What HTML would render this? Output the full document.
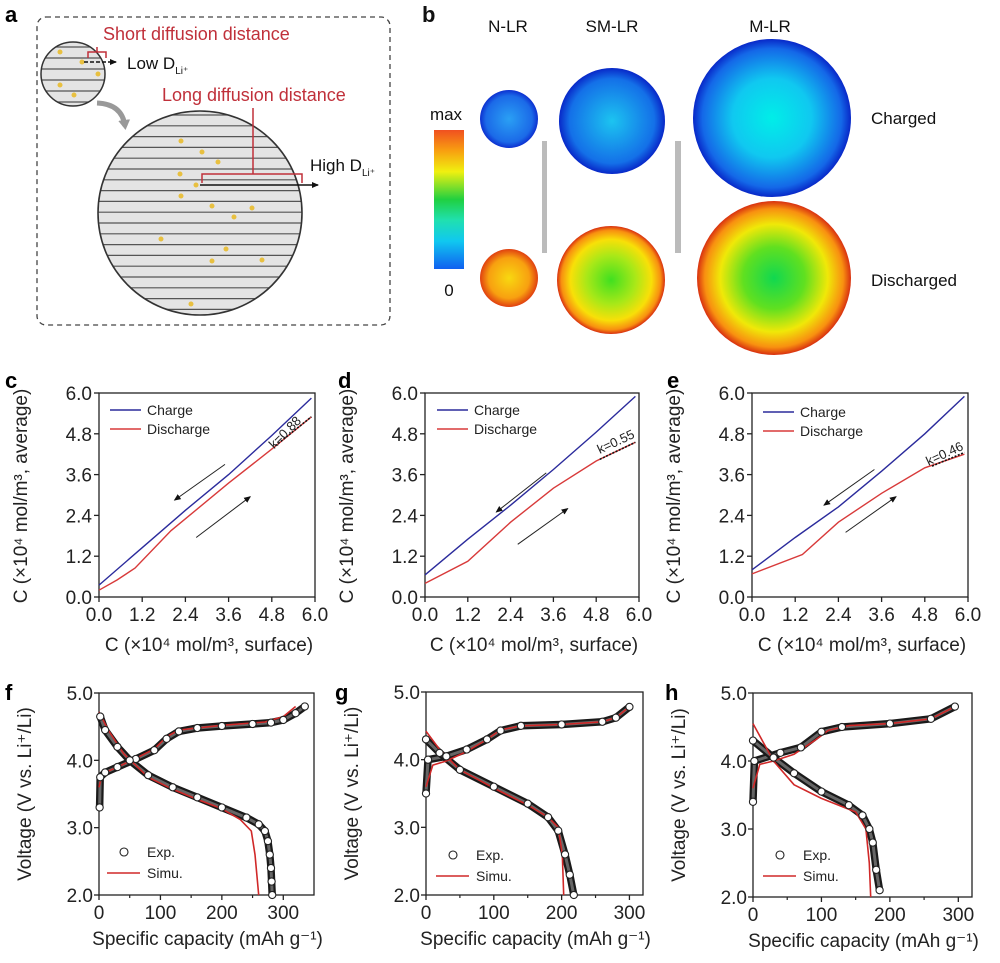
<!DOCTYPE html>
<html><head><meta charset="utf-8"><style>
html,body{margin:0;padding:0;background:#fff;}
svg{display:block;font-family:"Liberation Sans",Arial,sans-serif;}
</style></head><body>
<svg id="fig" width="1000" height="963" viewBox="0 0 1000 963" xmlns="http://www.w3.org/2000/svg">
<defs>
<clipPath id="clipS"><circle cx="73" cy="74" r="32"/></clipPath>
<clipPath id="clipB"><circle cx="200" cy="213" r="102"/></clipPath>
<marker id="ah" markerWidth="8" markerHeight="8" refX="6" refY="4" orient="auto" markerUnits="userSpaceOnUse"><path d="M0,1 L7,4 L0,7 z" fill="#111"/></marker>
<marker id="ahg" markerWidth="14" markerHeight="14" refX="6" refY="7" orient="auto" markerUnits="userSpaceOnUse"><path d="M0,1 L10,7 L0,13 z" fill="#999"/></marker>
<linearGradient id="cbar" x1="0" y1="1" x2="0" y2="0">
<stop offset="0" stop-color="#1060f0"/><stop offset="0.2" stop-color="#10c8f0"/><stop offset="0.35" stop-color="#20e0b0"/><stop offset="0.5" stop-color="#20d040"/><stop offset="0.7" stop-color="#f0f010"/><stop offset="0.85" stop-color="#f8a010"/><stop offset="1" stop-color="#f05020"/>
</linearGradient>
<radialGradient id="gc1"><stop offset="0" stop-color="#2aa0f4"/><stop offset="0.8" stop-color="#1b6ae8"/><stop offset="1" stop-color="#0c30d0"/></radialGradient>
<radialGradient id="gc2"><stop offset="0" stop-color="#1cc4f0"/><stop offset="0.8" stop-color="#1470e8"/><stop offset="1" stop-color="#0828c8"/></radialGradient>
<radialGradient id="gc3"><stop offset="0" stop-color="#00eee8"/><stop offset="0.5" stop-color="#10c8f0"/><stop offset="0.88" stop-color="#1468e8"/><stop offset="1" stop-color="#0828c8"/></radialGradient>
<radialGradient id="gd1"><stop offset="0" stop-color="#f8d810"/><stop offset="0.7" stop-color="#f8a010"/><stop offset="1" stop-color="#e04010"/></radialGradient>
<radialGradient id="gd2"><stop offset="0" stop-color="#40e020"/><stop offset="0.45" stop-color="#a8e818"/><stop offset="0.75" stop-color="#f8e008"/><stop offset="0.92" stop-color="#f89010"/><stop offset="1" stop-color="#d83010"/></radialGradient>
<radialGradient id="gd3"><stop offset="0" stop-color="#10d850"/><stop offset="0.4" stop-color="#60e020"/><stop offset="0.7" stop-color="#f0e808"/><stop offset="0.9" stop-color="#f89010"/><stop offset="1" stop-color="#d83010"/></radialGradient>
</defs>

<!-- Panel a -->
<g>
<text x="5" y="22" font-size="22" font-weight="bold">a</text>
<rect x="37" y="17" width="353" height="308" rx="9" fill="none" stroke="#444" stroke-width="1.3" stroke-dasharray="5,4"/>
<g>
<circle cx="73" cy="74" r="32" fill="#e4e4e4"/>
<g clip-path="url(#clipS)" stroke="#555" stroke-width="1.2">
<line x1="30" x2="120" y1="47" y2="47"/><line x1="30" x2="120" y1="58" y2="58"/><line x1="30" x2="120" y1="69" y2="69"/><line x1="30" x2="120" y1="80" y2="80"/><line x1="30" x2="120" y1="91" y2="91"/><line x1="30" x2="120" y1="102" y2="102"/>
</g>
<circle cx="73" cy="74" r="32" fill="none" stroke="#333" stroke-width="1.5"/>
<g fill="#e8c040"><circle cx="60" cy="52" r="2.5"/><circle cx="82" cy="62" r="2.5"/><circle cx="98" cy="74" r="2.5"/><circle cx="60" cy="85" r="2.5"/><circle cx="74" cy="95" r="2.5"/></g>
</g>
<g>
<circle cx="200" cy="213" r="102" fill="#e4e4e4"/>
<g clip-path="url(#clipB)" stroke="#555" stroke-width="1.2" id="bigLines"></g>
<circle cx="200" cy="213" r="102" fill="none" stroke="#333" stroke-width="1.6"/>
<g fill="#e8c040"><circle cx="181" cy="141" r="2.5"/><circle cx="202" cy="152" r="2.5"/><circle cx="218" cy="162" r="2.5"/><circle cx="180" cy="174" r="2.5"/><circle cx="196" cy="185" r="2.5"/><circle cx="181" cy="196" r="2.5"/><circle cx="212" cy="206" r="2.5"/><circle cx="252" cy="208" r="2.5"/><circle cx="234" cy="217" r="2.5"/><circle cx="161" cy="239" r="2.5"/><circle cx="226" cy="249" r="2.5"/><circle cx="212" cy="261" r="2.5"/><circle cx="262" cy="260" r="2.5"/><circle cx="191" cy="304" r="2.5"/></g>
</g>
<path d="M97,103 Q122,104 125,126" fill="none" stroke="#999" stroke-width="5" marker-end="url(#ahg)"/>
<path d="M88,58 V52 H106 V58 M97,52 V47" fill="none" stroke="#c0303a" stroke-width="1.5"/>
<line x1="84" y1="62" x2="116" y2="62" stroke="#111" stroke-width="1.5" stroke-dasharray="4,2" marker-end="url(#ah)"/>
<text x="103" y="40" font-size="18" fill="#c0303a">Short diffusion distance</text>
<text x="127" y="69" font-size="17" fill="#111">Low D<tspan font-size="10" dy="5">Li⁺</tspan></text>
<text x="162" y="101" font-size="18" fill="#c0303a">Long diffusion distance</text>
<path d="M253,108 V174 M202,183 V174 H302 V183" fill="none" stroke="#c0303a" stroke-width="1.5"/>
<line x1="200" y1="185" x2="318" y2="185" stroke="#111" stroke-width="1.5" marker-end="url(#ah)"/>
<text x="310" y="171" font-size="17" fill="#111">High D<tspan font-size="10" dy="5">Li⁺</tspan></text>
</g>

<!-- Panel b -->
<g font-size="17" fill="#111">
<text x="422" y="22" font-size="22" font-weight="bold">b</text>
<text x="508" y="32" text-anchor="middle">N-LR</text>
<text x="612" y="32" text-anchor="middle">SM-LR</text>
<text x="770" y="32" text-anchor="middle">M-LR</text>
<text x="446" y="120" text-anchor="middle">max</text>
<text x="449" y="296" text-anchor="middle">0</text>
<rect x="434" y="130" width="30" height="139" fill="url(#cbar)"/>
<rect x="542" y="141" width="5" height="112" fill="#bbb"/>
<rect x="675" y="141" width="6" height="112" fill="#bbb"/>
<circle cx="509" cy="119" r="29" fill="url(#gc1)"/>
<circle cx="612" cy="121" r="53" fill="url(#gc2)"/>
<circle cx="772" cy="118" r="79" fill="url(#gc3)"/>
<circle cx="509" cy="278" r="29" fill="url(#gd1)"/>
<circle cx="611" cy="280" r="54" fill="url(#gd2)"/>
<circle cx="774" cy="278" r="77" fill="url(#gd3)"/>
<text x="871" y="124">Charged</text>
<text x="871" y="286">Discharged</text>
</g>

<g id="charts"></g>
</svg>
<script>
// ---- data: panels c, d, e (x: surface conc, y: average conc) ----
const cCharge = [[0,0.35],[1.2,1.45],[2.4,2.55],[3.6,3.6],[4.8,4.75],[5.9,5.85]];
const cDischarge = [[0,0.2],[0.5,0.5],[1.0,0.85],[2.0,1.95],[3.6,3.35],[4.8,4.35],[5.9,5.3]];
const cFit = [[4.9,4.45],[5.9,5.3]];
const dCharge = [[0,0.65],[1.2,1.7],[2.4,2.7],[3.6,3.75],[4.8,4.85],[5.9,5.9]];
const dDischarge = [[0,0.4],[1.2,1.05],[2.4,2.2],[3.6,3.2],[4.8,4.0],[5.9,4.55]];
const dFit = [[4.9,4.05],[5.9,4.55]];
const eCharge = [[0,0.8],[1.2,1.75],[2.4,2.65],[3.6,3.7],[4.8,4.8],[5.9,5.9]];
const eDischarge = [[0,0.68],[1.4,1.25],[2.4,2.2],[3.6,3.05],[4.8,3.8],[5.9,4.2]];
const eFit = [[5.0,3.85],[5.9,4.25]];
const concTicks = ["0.0","1.2","2.4","3.6","4.8","6.0"];
const kLabels = ["k=0.88","k=0.55","k=0.46"];

// ---- data: panels f, g, h (capacity vs voltage) ----
const fExpCharge = [[1,3.3],[2,3.75],[10,3.82],[30,3.9],[60,4.02],[90,4.15],[110,4.32],[130,4.43],[160,4.48],[200,4.51],[250,4.54],[280,4.56],[300,4.6],[320,4.7],[335,4.8]];
const fExpDischarge = [[2,4.65],[10,4.45],[30,4.2],[50,4.0],[80,3.78],[120,3.6],[160,3.45],[200,3.3],[240,3.15],[260,3.05],[270,2.95],[275,2.8],[278,2.6],[280,2.4],[281,2.2],[282,2.0]];
const fSimCharge = [[0,3.6],[5,3.8],[30,3.9],[60,4.03],[90,4.17],[110,4.35],[130,4.45],[200,4.52],[270,4.57],[300,4.65],[320,4.8]];
const fSimDischarge = [[0,4.72],[15,4.45],[40,4.1],[80,3.75],[120,3.57],[160,3.42],[200,3.28],[230,3.12],[248,2.95],[254,2.6],[260,2.0]];
const gExpCharge = [[0,3.5],[3,4.0],[30,4.05],[60,4.15],[90,4.3],[110,4.43],[140,4.5],[200,4.52],[260,4.56],[280,4.62],[300,4.78]];
const gExpDischarge = [[0,4.3],[20,4.1],[50,3.85],[100,3.6],[150,3.35],[180,3.15],[195,2.95],[205,2.6],[212,2.3],[218,2.0]];
const gSimCharge = [[0,3.6],[10,3.92],[30,3.98],[60,4.12],[90,4.3],[110,4.44],[140,4.5],[200,4.52],[260,4.56],[280,4.62],[302,4.8]];
const gSimDischarge = [[0,4.42],[20,4.15],[50,3.85],[100,3.58],[150,3.33],[180,3.15],[195,3.0],[201,2.6],[203,2.0]];
const hExpCharge = [[0,3.4],[2,4.0],[40,4.12],[70,4.2],[100,4.43],[130,4.5],[200,4.55],[260,4.62],[295,4.8]];
const hExpDischarge = [[0,4.3],[30,4.05],[60,3.82],[100,3.55],[140,3.35],[160,3.2],[170,3.0],[175,2.8],[180,2.4],[185,2.1]];
const hSimCharge = [[0,3.6],[10,3.95],[30,4.0],[60,4.1],[90,4.3],[110,4.45],[140,4.52],[200,4.55],[260,4.62],[295,4.8]];
const hSimDischarge = [[0,4.55],[30,4.0],[60,3.65],[100,3.45],[150,3.25],[165,3.0],[170,2.5],[172,2.0]];
const capTicks = [0,100,200,300];
const voltTicks = ["2.0","3.0","4.0","5.0"];

const NS = "http://www.w3.org/2000/svg";
const root = document.getElementById('charts');
function el(tag, attrs, parent){ const e=document.createElementNS(NS,tag); for(const k in attrs) e.setAttribute(k,attrs[k]); (parent||root).appendChild(e); return e; }

// big particle stripes
const bl=document.getElementById('bigLines');
for(let y=115;y<320;y+=10.8){ const l=el('line',{x1:90,x2:310,y1:y,y2:y},bl);

 }

function scale(d0,d1,p0,p1){ return v => p0+(v-d0)*(p1-p0)/(d1-d0); }
function pathOf(pts,sx,sy){ return pts.map((p,i)=>(i?'L':'M')+sx(p[0]).toFixed(1)+','+sy(p[1]).toFixed(1)).join(' '); }

function frame(g, X0,X1,Y0,Y1){
  const r=el('rect',{x:X0,y:Y1,width:X1-X0,height:Y0-Y1,fill:'none',stroke:'#222','stroke-width':1.3},g);
  
  
}

// ---- concentration panels ----
const concPanels=[
 {id:'c',x0:99,x1:315,lx:5,ch:cCharge,dis:cDischarge,fit:cFit,k:kLabels[0],kpos:[5.25,4.75],ax1:[[3.5,3.9],[2.1,2.85]],ax2:[[2.7,1.75],[4.2,2.95]],leg:[110,410]},
 {id:'d',x0:425,x1:639,lx:338,ch:dCharge,dis:dDischarge,fit:dFit,k:kLabels[1],kpos:[5.4,4.45],ax1:[[3.4,3.65],[2.0,2.5]],ax2:[[2.6,1.55],[4.0,2.6]],leg:[437,410]},
 {id:'e',x0:752,x1:968,lx:667,ch:eCharge,dis:eDischarge,fit:eFit,k:kLabels[2],kpos:[5.4,4.1],ax1:[[3.4,3.75],[2.0,2.7]],ax2:[[2.6,1.9],[4.0,2.95]],leg:[763,412]}
];
concPanels.forEach(P=>{
  const g=el('g',{});
  
  
  const Y0=597,Y1=393;
  const sx=scale(0,6,P.x0,P.x1), sy=scale(0,6,Y0,Y1);
  const lab=el('text',{x:P.lx,y:388,'font-size':22,'font-weight':'bold'},g); lab.textContent=P.id;
  
  
  frame(g,P.x0,P.x1,Y0,Y1);
  concTicks.forEach((t,i)=>{
    const v=parseFloat(t);
    const tx=el('line',{x1:sx(v),x2:sx(v),y1:Y0,y2:Y0+5,stroke:'#222','stroke-width':1.3},g);
    
    
    const ty=el('line',{x1:P.x0-5,x2:P.x0,y1:sy(v),y2:sy(v),stroke:'#222','stroke-width':1.3},g);
    
    
    const lx=el('text',{x:sx(v),y:Y0+24,'font-size':19,'text-anchor':'middle',fill:'#222'},g); lx.textContent=t;
    
    
    const ly=el('text',{x:P.x0-7,y:sy(v)+7,'font-size':19,'text-anchor':'end',fill:'#222'},g); ly.textContent=t;
    
    
  });
  const xt=el('text',{x:(P.x0+P.x1)/2+2,y:651,'font-size':19,'text-anchor':'middle',fill:'#222'},g);
  xt.textContent='C (×10⁴ mol/m³, surface)';
  
  
  const yx=P.x0-72;
  const yt=el('text',{x:yx,y:496,'font-size':19,'text-anchor':'middle',fill:'#222',transform:`rotate(-90 ${yx} 496)`},g);
  yt.textContent='C (×10⁴ mol/m³, average)';
  
  
  const pc=el('path',{d:pathOf(P.ch,sx,sy),fill:'none',stroke:'#2b2b9c','stroke-width':1.4},g);
  
  
  const pd=el('path',{d:pathOf(P.dis,sx,sy),fill:'none',stroke:'#d83a3a','stroke-width':1.4},g);
  
  
  const pf=el('path',{d:pathOf(P.fit,sx,sy),fill:'none',stroke:'#111','stroke-width':1.6,'stroke-dasharray':'2,1.5'},g);
  
  
  const kx=sx(P.kpos[0]), ky=sy(P.kpos[1]);
  const kt=el('text',{x:kx,y:ky,'font-size':13,'text-anchor':'middle',fill:'#222',transform:`rotate(${P.id==='c'?-45:-25} ${kx} ${ky})`},g);
  kt.textContent=P.k;
  
  
  [P.ax1,P.ax2].forEach(a=>{
    const ar=el('line',{x1:sx(a[0][0]),y1:sy(a[0][1]),x2:sx(a[1][0]),y2:sy(a[1][1]),stroke:'#222','stroke-width':1,'marker-end':'url(#ah)'},g);
    
    
  });
  [['Charge','#2b2b9c',0],['Discharge','#d83a3a',19]].forEach(L=>{
    const ll=el('line',{x1:P.leg[0],x2:P.leg[0]+31,y1:P.leg[1]+L[2],y2:P.leg[1]+L[2],stroke:L[1],'stroke-width':1.5},g);
    
    
    const lt=el('text',{x:P.leg[0]+37,y:P.leg[1]+L[2]+5,'font-size':14,fill:'#222'},g); lt.textContent=L[0];
    
    
  });
});

// ---- voltage panels ----
const voltPanels=[
 {id:'f',x0:99,x1:314,dmax:350,lx:5,Y0:895,Y1:693,ec:fExpCharge,ed:fExpDischarge,sc:fSimCharge,sd:fSimDischarge,leg:[107,852]},
 {id:'g',x0:426,x1:643,dmax:320,lx:335,Y0:895,Y1:692,ec:gExpCharge,ed:gExpDischarge,sc:gSimCharge,sd:gSimDischarge,leg:[436,855]},
 {id:'h',x0:753,x1:972,dmax:320,lx:665,Y0:897,Y1:693,ec:hExpCharge,ed:hExpDischarge,sc:hSimCharge,sd:hSimDischarge,leg:[763,855]}
];
voltPanels.forEach(P=>{
  const g=el('g',{});
  
  
  const sx=scale(0,P.dmax,P.x0,P.x1), sy=scale(2,5,P.Y0,P.Y1);
  const lab=el('text',{x:P.lx,y:700,'font-size':22,'font-weight':'bold'},g); lab.textContent=P.id;
  
  
  frame(g,P.x0,P.x1,P.Y0,P.Y1);
  for(let v=50; v<P.dmax; v+=100){
    const m=el('line',{x1:sx(v),x2:sx(v),y1:P.Y0,y2:P.Y0+3,stroke:'#222','stroke-width':1.2},g);
    
    
  }
  capTicks.forEach(v=>{
    const tx=el('line',{x1:sx(v),x2:sx(v),y1:P.Y0,y2:P.Y0+5,stroke:'#222','stroke-width':1.3},g);
    
    
    const lx=el('text',{x:sx(v),y:P.Y0+24,'font-size':19,'text-anchor':'middle',fill:'#222'},g); lx.textContent=v;
    
    
  });
  voltTicks.forEach(t=>{
    const v=parseFloat(t);
    const ty=el('line',{x1:P.x0-5,x2:P.x0,y1:sy(v),y2:sy(v),stroke:'#222','stroke-width':1.3},g);
    
    
    const ly=el('text',{x:P.x0-6,y:sy(v)+7,'font-size':19,'text-anchor':'end',fill:'#222'},g); ly.textContent=t;
    
    
  });
  const xt=el('text',{x:(P.x0+P.x1)/2+1,y:P.Y0+50,'font-size':19,'text-anchor':'middle',fill:'#222'},g);
  xt.textContent='Specific capacity (mAh g⁻¹)';
  
  
  const yx=P.x0-68, yc=(P.Y0+P.Y1)/2;
  const yt=el('text',{x:yx,y:yc,'font-size':19,'text-anchor':'middle',fill:'#222',transform:`rotate(-90 ${yx} ${yc})`},g);
  yt.textContent='Voltage (V vs. Li⁺/Li)';
  
  
  [P.ec,P.ed].forEach(s=>{
    const pb=el('path',{d:pathOf(s,sx,sy),fill:'none',stroke:'#1a1a1a','stroke-width':7.5,'stroke-linejoin':'round'},g);
    
    
    const pw=el('path',{d:pathOf(s,sx,sy),fill:'none',stroke:'#666','stroke-width':3,'stroke-linejoin':'round'},g);
    
    
  });
  [P.sc,P.sd].forEach(s=>{
    const ps=el('path',{d:pathOf(s,sx,sy),fill:'none',stroke:'#d02828','stroke-width':1.6,'stroke-linejoin':'round'},g);
    
    
  });
  [P.ec,P.ed].forEach(s=>s.forEach(p=>{
    const c=el('circle',{cx:sx(p[0]),cy:sy(p[1]),r:3.6,fill:'#fff',stroke:'#222','stroke-width':1.1},g);
    
    
  }));
  const lc=el('circle',{cx:P.leg[0]+17,cy:P.leg[1],r:4,fill:'#fff',stroke:'#222','stroke-width':1.1},g);
  
  
  const t1=el('text',{x:P.leg[0]+40,y:P.leg[1]+5,'font-size':14,fill:'#222'},g); t1.textContent='Exp.';
  
  
  const ll=el('line',{x1:P.leg[0],x2:P.leg[0]+33,y1:P.leg[1]+21,y2:P.leg[1]+21,stroke:'#d02828','stroke-width':1.6},g);
  
  
  const t2=el('text',{x:P.leg[0]+40,y:P.leg[1]+26,'font-size':14,fill:'#222'},g); t2.textContent='Simu.';
  
  
});
</script>
</body></html>
